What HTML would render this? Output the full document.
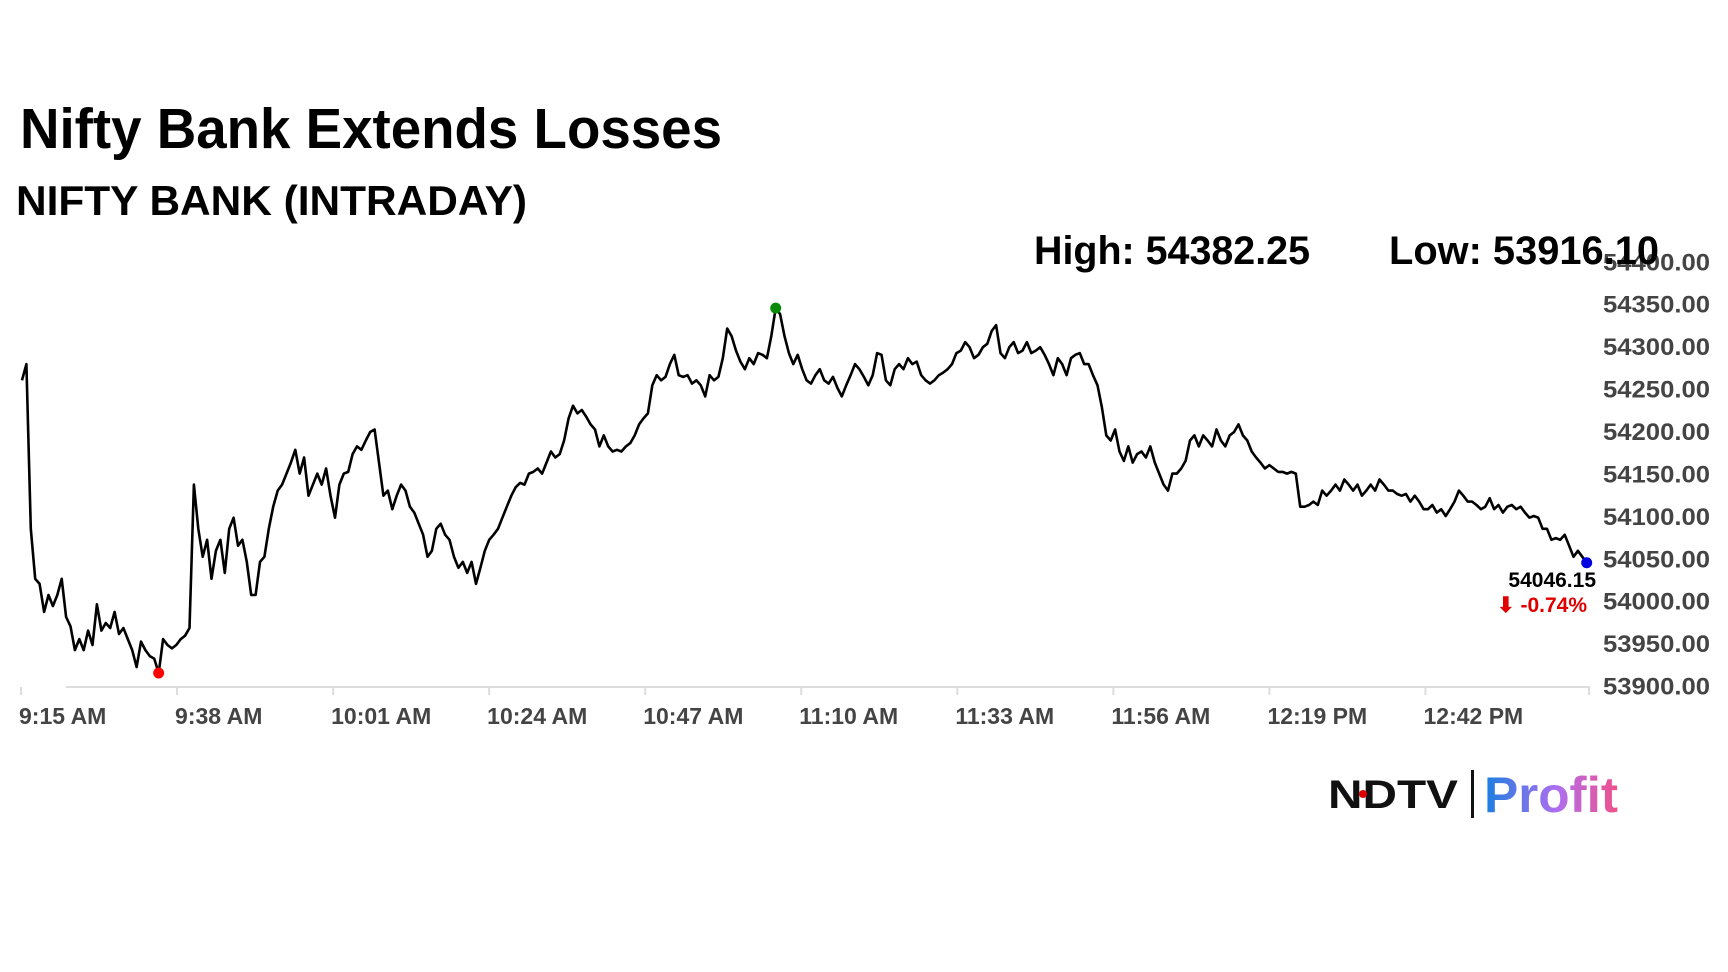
<!DOCTYPE html>
<html><head><meta charset="utf-8"><title>Nifty Bank Extends Losses</title>
<style>
html,body{margin:0;padding:0;background:#fff;}
svg{display:block;font-family:"Liberation Sans",Arial,sans-serif;}
</style></head>
<body>
<svg id="chart" width="1728" height="972" viewBox="0 0 1728 972" xmlns="http://www.w3.org/2000/svg">
<defs>
<linearGradient id="pg" x1="0" x2="1" y1="0" y2="0"><stop offset="0" stop-color="#1a7fe0"/><stop offset="0.55" stop-color="#b06ef0"/><stop offset="1" stop-color="#f0508a"/></linearGradient>
</defs>
<text x="20" y="148" font-size="57" font-weight="bold" fill="#000" textLength="702" lengthAdjust="spacingAndGlyphs">Nifty Bank Extends Losses</text>
<text x="16" y="215" font-size="42" font-weight="bold" fill="#000" textLength="511" lengthAdjust="spacingAndGlyphs">NIFTY BANK (INTRADAY)</text>
<g id="yaxis"></g>
<g id="xaxis"></g>
<g id="series"></g>
<text x="1034" y="264" font-size="40" font-weight="bold" fill="#000" textLength="276" lengthAdjust="spacingAndGlyphs">High: 54382.25</text>
<text x="1389" y="264" font-size="40" font-weight="bold" fill="#000" textLength="270" lengthAdjust="spacingAndGlyphs">Low: 53916.10</text>
<text x="1596" y="587" font-size="21" font-weight="bold" fill="#000" text-anchor="end">54046.15</text>
<text x="1587" y="612" font-size="21" font-weight="bold" fill="#e00000" text-anchor="end">⬇ -0.74%</text>
<g>
<text x="1328" y="808" font-size="40" font-weight="900" fill="#111" textLength="130" lengthAdjust="spacingAndGlyphs">NDTV</text>
<circle cx="1363" cy="794" r="4" fill="#e00000"/>
<rect x="1471" y="770" width="3" height="48" fill="#111"/>
<text x="1484" y="812" font-size="50" font-weight="bold" fill="url(#pg)" textLength="134" lengthAdjust="spacingAndGlyphs">Profit</text>
</g>
</svg>
<script>
const yTicks = [53900,53950,54000,54050,54100,54150,54200,54250,54300,54350,54400];
const xTickLabels = ["9:15 AM","9:38 AM","10:01 AM","10:24 AM","10:47 AM","11:10 AM","11:33 AM","11:56 AM","12:19 PM","12:42 PM"];
const xTickMinutes = [0,23,46,69,92,115,138,161,184,207];
const startMinute = 0.15;
const stepMinutes = 0.6496;
const prices = [54261,54280,54086,54027,54021,53988,54008,53995,54008,54027,53982,53971,53943,53956,53943,53966,53949,53997,53966,
53975,53969,53988,53962,53969,53956,53943,53923,53953,53943,53936,53933,53916,53956,53949,53945,53949,53956,53960,53969,
54138,54086,54053,54073,54027,54060,54073,54034,54086,54099,54066,54073,54047,54008,54008,54047,54053,54086,54112,54131,
54138,54151,54164,54179,54151,54170,54125,54138,54151,54138,54157,54125,54099,54138,54151,54153,54174,54183,54179,54190,
54200,54203,54164,54125,54131,54109,54125,54138,54131,54112,54105,54092,54079,54053,54060,54086,54092,54079,54073,54053,
54040,54047,54034,54047,54021,54040,54060,54073,54079,54086,54099,54112,54125,54135,54140,54138,54151,54153,54157,54151,
54164,54177,54170,54174,54190,54216,54231,54222,54226,54218,54209,54203,54183,54196,54183,54177,54179,54177,54183,54187,
54196,54209,54216,54222,54255,54267,54261,54265,54280,54291,54267,54265,54267,54257,54261,54255,54242,54267,54261,54265,
54287,54322,54313,54296,54283,54274,54287,54280,54293,54291,54287,54313,54346,54339,54313,54293,54280,54291,54274,54261,
54257,54267,54274,54261,54257,54265,54252,54242,54255,54267,54280,54274,54265,54255,54267,54293,54291,54261,54255,54274,
54280,54274,54287,54280,54283,54267,54261,54257,54261,54267,54270,54274,54280,54293,54296,54306,54300,54287,54291,54300,
54304,54319,54326,54293,54287,54300,54306,54293,54296,54306,54293,54296,54300,54291,54280,54267,54287,54280,54267,54287,
54291,54293,54280,54280,54267,54255,54229,54196,54190,54203,54177,54166,54183,54164,54174,54177,54170,54183,54164,54151,
54138,54131,54151,54151,54157,54166,54190,54196,54183,54196,54190,54183,54203,54190,54183,54196,54200,54209,54196,54190,
54177,54170,54164,54157,54161,54157,54153,54153,54151,54153,54151,54112,54112,54114,54118,54114,54131,54125,54131,54138,
54131,54144,54138,54131,54138,54125,54131,54138,54131,54144,54138,54131,54131,54127,54125,54127,54118,54125,54118,54109,
54109,54114,54105,54109,54101,54109,54118,54131,54125,54118,54118,54114,54109,54112,54122,54109,54114,54105,54112,54114,
54109,54112,54105,54099,54101,54099,54086,54086,54073,54075,54073,54079,54066,54053,54060,54053,54046];

const NS = "http://www.w3.org/2000/svg";
function xScale(m){ return 21 + m * 6.785; }
function yScale(v){ return 262.3 + (54400 - v) * 0.8486; }
function mk(tag, attrs, parent){ const e=document.createElementNS(NS,tag); for(const k in attrs) e.setAttribute(k,attrs[k]); parent.appendChild(e); return e; }

const yg = document.getElementById('yaxis');
yTicks.forEach(v=>{
  const t = mk('text',{x:1710,y:yScale(v)+8,'font-size':24,'font-weight':'bold',fill:'#444','text-anchor':'end',textLength:107,lengthAdjust:'spacingAndGlyphs'},yg);
  
  
  t.textContent = v.toFixed(2);
});

const xg = document.getElementById('xaxis');
const axisLine = mk('line',{x1:66,x2:1590,y1:687,y2:687,stroke:'#ddd','stroke-width':2},xg);


xTickMinutes.forEach((m,i)=>{
  const x = xScale(m);
  const tk = mk('line',{x1:x,x2:x,y1:687,y2:695,stroke:'#ddd','stroke-width':2},xg);
  
  
  const t = mk('text',{x:x-2,y:724,'font-size':23,'font-weight':'bold',fill:'#444'},xg);
  
  
  t.textContent = xTickLabels[i];
});
const endTick = mk('line',{x1:1589,x2:1589,y1:687,y2:695,stroke:'#ddd','stroke-width':2},xg);



const sg = document.getElementById('series');
let d = '';
let maxI = 0, minI = 0;
prices.forEach((v,i)=>{
  const x = xScale(startMinute + i*stepMinutes), y = yScale(v);
  d += (i?'L':'M') + x.toFixed(1) + ' ' + y.toFixed(1);
  if (v > prices[maxI]) maxI = i;
  if (v < prices[minI]) minI = i;
});
const path = mk('path',{d:d,fill:'none',stroke:'#000','stroke-width':2.6,'stroke-linejoin':'round'},sg);


function dot(i,color,name){
  const c = mk('circle',{cx:xScale(startMinute+i*stepMinutes),cy:yScale(prices[i]),r:5.5,fill:color},sg);
  
  
}
dot(maxI,'#0a8a0a','high-marker');
dot(minI,'#ff0000','low-marker');
dot(prices.length-1,'#0000e0','last-price-marker');
</script>
</body></html>
